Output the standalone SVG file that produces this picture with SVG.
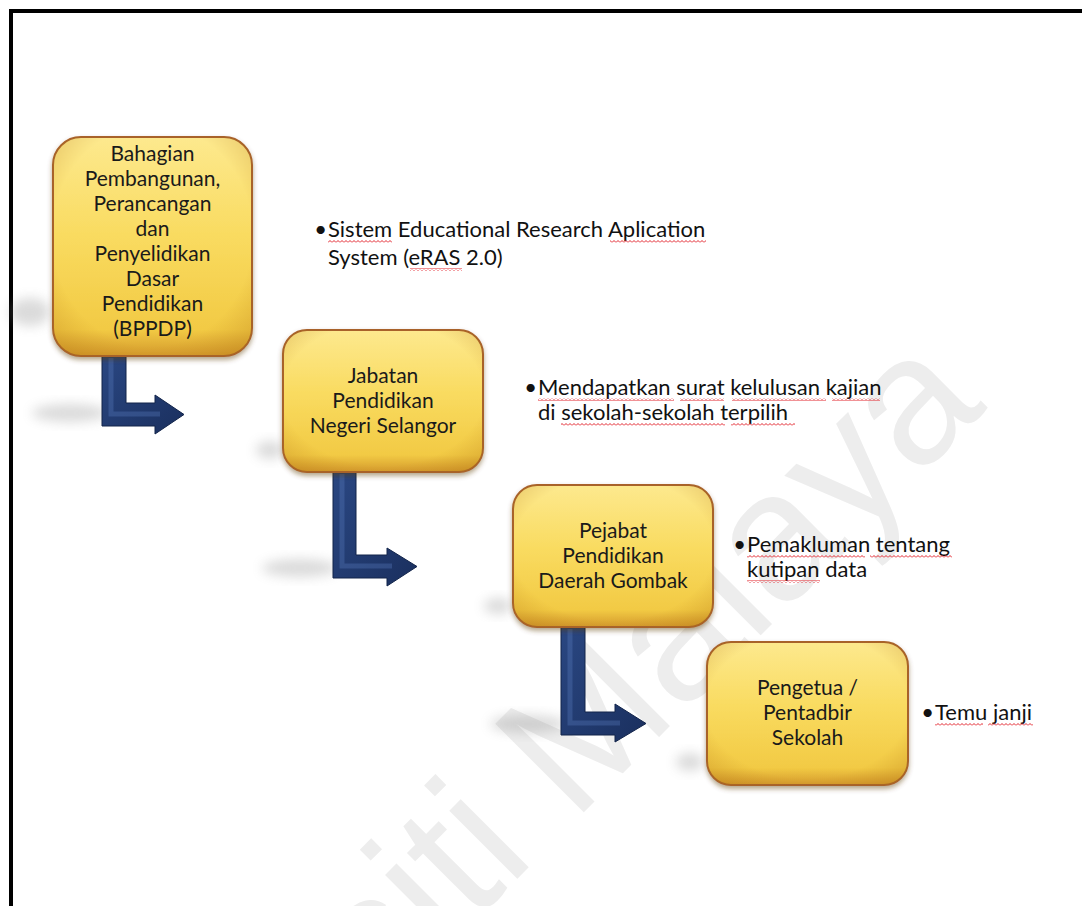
<svg xmlns="http://www.w3.org/2000/svg" width="1082" height="906" viewBox="0 0 1082 906">
<style>
.box{stroke:#a8622a;stroke-width:2}
.shade{fill:url(#edge)}
.lbl{font-family:"Lato","Liberation Sans",sans-serif;font-size:21px;fill:#1a1a1a;text-anchor:middle}
.ann{font-family:"Lato","Liberation Sans",sans-serif;font-size:22px;fill:#111}
.bul{font-family:"Lato","Liberation Sans",sans-serif;font-size:22px;fill:#111;text-anchor:end}
.arrow{fill:url(#navy);stroke:#12244a;stroke-width:1}
.hl{fill:none;stroke:#5a7bbd;stroke-width:5;opacity:.35}
.sq{fill:url(#wave)}
.sh{fill:#888;opacity:.3;filter:url(#blur)}
.wm{font-family:"Liberation Sans",sans-serif;font-size:182px;fill:#ededed}
</style>
<defs>
<linearGradient id="gold" x1="0" y1="0" x2="0" y2="1">
<stop offset="0" stop-color="#fde98e"/>
<stop offset="0.45" stop-color="#f9db60"/>
<stop offset="0.88" stop-color="#f2ca44"/>
<stop offset="1" stop-color="#d49a2c"/>
</linearGradient>
<radialGradient id="edge" cx="0.5" cy="0.45" r="0.72">
<stop offset="0.7" stop-color="#b07010" stop-opacity="0"/>
<stop offset="1" stop-color="#b07010" stop-opacity="0.35"/>
</radialGradient>
<linearGradient id="navy" x1="0" y1="0" x2="1" y2="1">
<stop offset="0" stop-color="#2a4782"/>
<stop offset="1" stop-color="#1a2f5e"/>
</linearGradient>
<pattern id="wave" width="4" height="3" patternUnits="userSpaceOnUse">
<path d="M0 2.5 L2 0.5 L4 2.5" fill="none" stroke="#e2242c" stroke-width="1"/>
</pattern>
<filter id="blur" x="-50%" y="-50%" width="200%" height="200%"><feGaussianBlur stdDeviation="6"/></filter>
<filter id="ds" x="-10%" y="-10%" width="120%" height="130%"><feDropShadow dx="0" dy="3" stdDeviation="2.5" flood-color="#5a3a10" flood-opacity="0.45"/></filter>
</defs>
<rect x="0" y="0" width="1082" height="906" fill="#ffffff"/>

<g id="watermark">
<text class="wm" transform="translate(988,408) rotate(-45)" text-anchor="end">Universiti Malaya</text>
</g>

<rect x="11" y="11" width="1080" height="900" fill="none" stroke="#000" stroke-width="4"/>

<g id="shadows">
<ellipse class="sh" cx="70" cy="413" rx="38" ry="9"/>
<ellipse class="sh" cx="300" cy="568" rx="38" ry="9"/>
<ellipse class="sh" cx="528" cy="724" rx="38" ry="9"/>
<ellipse class="sh" cx="30" cy="312" rx="20" ry="14"/>
<ellipse class="sh" cx="270" cy="450" rx="14" ry="9"/>
<ellipse class="sh" cx="498" cy="606" rx="14" ry="8"/>
<ellipse class="sh" cx="690" cy="762" rx="14" ry="9"/>
</g>

<g id="connectors">
<path class="arrow" d="M102,356 L126,356 L126,403 L155,403 L155,395 L184,414.5 L155,434 L155,426 L102,426 Z"/>
<path class="hl" d="M111,358 V414 H160"/>
<path class="arrow" d="M333,472 L356,472 L356,555 L387,555 L387,548 L417,566.5 L387,586 L387,578 L333,578 Z"/>
<path class="hl" d="M342,474 V566 H392"/>
<path class="arrow" d="M561,627 L585,627 L585,712 L615,712 L615,704 L646,723.5 L615,742 L615,735 L561,735 Z"/>
<path class="hl" d="M570,629 V723 H620"/>
</g>

<g id="n1">
<rect class="box" x="53" y="137" width="199" height="219" rx="28" fill="url(#gold)" filter="url(#ds)"/>
<rect class="shade" x="53" y="137" width="199" height="219" rx="28"/>
<text class="lbl" x="152.5" y="161">Bahagian</text>
<text class="lbl" x="152.5" y="186">Pembangunan,</text>
<text class="lbl" x="152.5" y="211">Perancangan</text>
<text class="lbl" x="152.5" y="236">dan</text>
<text class="lbl" x="152.5" y="261">Penyelidikan</text>
<text class="lbl" x="152.5" y="286">Dasar</text>
<text class="lbl" x="152.5" y="311">Pendidikan</text>
<text class="lbl" x="152.5" y="336">(BPPDP)</text>
</g>

<g id="n2">
<rect class="box" x="283" y="330" width="200" height="142" rx="24" fill="url(#gold)" filter="url(#ds)"/>
<rect class="shade" x="283" y="330" width="200" height="142" rx="24"/>
<text class="lbl" x="383" y="383">Jabatan</text>
<text class="lbl" x="383" y="408">Pendidikan</text>
<text class="lbl" x="383" y="433">Negeri Selangor</text>
</g>

<g id="n3">
<rect class="box" x="513" y="485" width="200" height="142" rx="24" fill="url(#gold)" filter="url(#ds)"/>
<rect class="shade" x="513" y="485" width="200" height="142" rx="24"/>
<text class="lbl" x="613" y="538">Pejabat</text>
<text class="lbl" x="613" y="563">Pendidikan</text>
<text class="lbl" x="613" y="588">Daerah Gombak</text>
</g>

<g id="n4">
<rect class="box" x="707" y="642" width="201" height="143" rx="24" fill="url(#gold)" filter="url(#ds)"/>
<rect class="shade" x="707" y="642" width="201" height="143" rx="24"/>
<text class="lbl" x="807.5" y="695">Pengetua /</text>
<text class="lbl" x="807.5" y="720">Pentadbir</text>
<text class="lbl" x="807.5" y="745">Sekolah</text>
</g>

<g id="a1">
<text class="bul" x="327" y="237">•</text>
<text class="ann" x="328" y="237">Sistem Educational Research Aplication</text>
<text class="ann" x="328" y="265">System (eRAS 2.0)</text>
<rect class="sq" x="328" y="240" width="64" height="3"/>
<rect class="sq" x="610" y="240" width="96" height="3"/>
<rect class="sq" x="410" y="268" width="52" height="3"/>
</g>

<g id="a2">
<text class="bul" x="537" y="395">•</text>
<text class="ann" x="538" y="395">Mendapatkan surat kelulusan kajian</text>
<text class="ann" x="538" y="420">di sekolah-sekolah terpilih</text>
<rect class="sq" x="538" y="398" width="136" height="3"/>
<rect class="sq" x="680" y="398" width="44" height="3"/>
<rect class="sq" x="732" y="398" width="94" height="3"/>
<rect class="sq" x="832" y="398" width="48" height="3"/>
<rect class="sq" x="561" y="423" width="164" height="3"/>
<rect class="sq" x="731" y="423" width="64" height="3"/>
</g>

<g id="a3">
<text class="bul" x="746" y="552">•</text>
<text class="ann" x="747" y="552">Pemakluman tentang</text>
<text class="ann" x="747" y="577">kutipan data</text>
<rect class="sq" x="747" y="555" width="118" height="3"/>
<rect class="sq" x="870" y="555" width="82" height="3"/>
<rect class="sq" x="747" y="580" width="73" height="3"/>
</g>

<g id="a4">
<text class="bul" x="934" y="720">•</text>
<text class="ann" x="935" y="720">Temu janji</text>
<rect class="sq" x="935" y="723" width="48" height="3"/>
<rect class="sq" x="988" y="723" width="45" height="3"/>
</g>
</svg>
